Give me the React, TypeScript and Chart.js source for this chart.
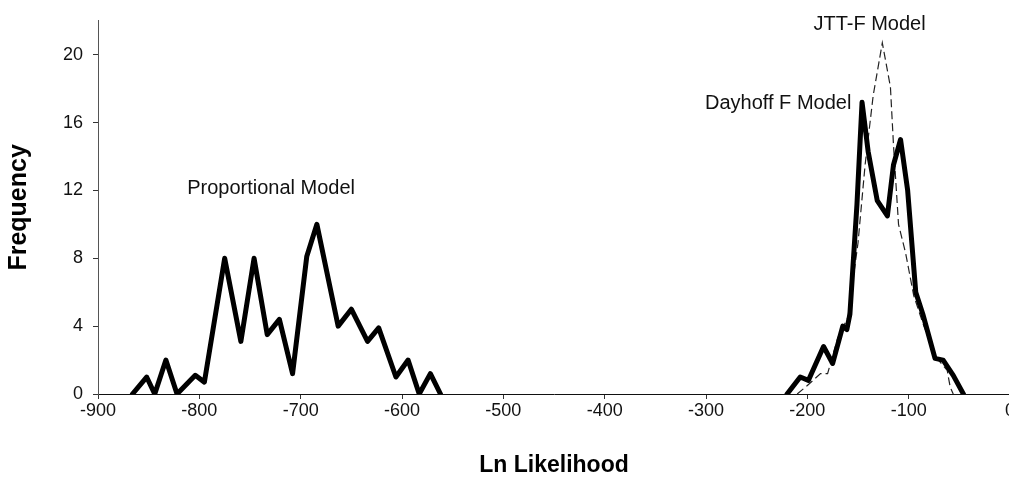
import React, { useEffect, useRef } from "react";
import { Chart, registerables } from "chart.js";

Chart.register(...registerables);

// Proportional Model
const propX = [-866, -852, -844, -833, -822, -804, -795, -775, -759, -746, -733, -721, -708, -694, -684, -663, -650, -634, -623, -606, -594, -583, -572, -562];
const propY = [0, 1.0, 0, 2.0, 0, 1.1, 0.7, 8, 3.1, 8, 3.5, 4.4, 1.2, 8.1, 10, 4.0, 5.0, 3.1, 3.9, 1.0, 2.0, 0, 1.2, 0];

// Dayhoff F Model
const dayX = [-220, -207, -199, -184, -175, -165, -161, -158, -151, -146, -140, -131, -121, -115, -108, -101, -93, -86, -74, -66, -56, -46];
const dayY = [0, 1.0, 0.8, 2.8, 1.8, 4.0, 3.8, 4.7, 11.2, 17.2, 14.3, 11.4, 10.5, 13.5, 15.0, 12.0, 6.0, 4.7, 2.1, 2.0, 1.1, 0];

// JTT-F Model
const jttX = [-210, -200, -187, -180, -170, -160, -150, -143, -135, -126, -118, -115, -110, -103, -95, -85, -72, -62, -59, -56];
const jttY = [0, 0.5, 1.2, 1.2, 3.3, 4.5, 8.9, 13.5, 17.6, 20.7, 18.1, 14.7, 10, 8.3, 5.8, 4, 2.1, 1.4, 0.4, 0];

const yTicks = [0, 4, 8, 12, 16, 20];
const xTicks = [-900, -800, -700, -600, -500, -400, -300, -200, -100, 0];

const labelTexts = ["Proportional Model", "Dayhoff F Model", "JTT-F Model"];
const labelAnchorX = [-812, -301, -194];
const labelAnchorY = [12.1, 17.1, 21.8];

const toPoints = (xs: number[], ys: number[]) => xs.map((x, i) => ({ x, y: ys[i] }));

const FONT = "'Liberation Sans', Arial, sans-serif";

const annotationPlugin = {
  id: "modelLabels",
  afterDatasetsDraw(chart: any) {
    const { ctx, scales } = chart;
    ctx.save();
    ctx.font = `20px ${FONT}`;
    ctx.fillStyle = "#111";
    ctx.textAlign = "left";
    ctx.textBaseline = "middle";
    labelTexts.forEach((t, i) => {
      const px = scales.x.getPixelForValue(labelAnchorX[i]);
      const py = scales.y.getPixelForValue(labelAnchorY[i]);
      ctx.fillText(t, px, py);
    });
    ctx.restore();
  },
};

export default function App() {
  const ref = useRef<HTMLCanvasElement | null>(null);
  useEffect(() => {
    if (!ref.current) return;
    const chart = new Chart(ref.current, {
      type: "line",
      data: {
        datasets: [
          {
            label: "Proportional Model",
            data: toPoints(propX, propY),
            borderColor: "#000",
            borderWidth: 5,
            pointRadius: 0,
            tension: 0,
            borderJoinStyle: "round",
            borderCapStyle: "round",
            fill: false,
          },
          {
            label: "Dayhoff F Model",
            data: toPoints(dayX, dayY),
            borderColor: "#000",
            borderWidth: 5,
            pointRadius: 0,
            tension: 0,
            borderJoinStyle: "round",
            borderCapStyle: "round",
            fill: false,
          },
          {
            label: "JTT-F Model",
            data: toPoints(jttX, jttY),
            borderColor: "#222",
            borderWidth: 1.2,
            borderDash: [8, 4],
            pointRadius: 0,
            tension: 0,
            fill: false,
          },
        ],
      },
      options: {
        responsive: false,
        animation: false,
        devicePixelRatio: 1,
        layout: { padding: { top: 13, right: 30, left: 0, bottom: 0 } },
        plugins: { legend: { display: false }, tooltip: { enabled: false } },
        scales: {
          x: {
            type: "linear",
            min: -900,
            max: 0,
            afterFit: (s: any) => {
              s.height = 93;
            },
            afterBuildTicks: (s: any) => {
              s.ticks = xTicks.map((v) => ({ value: v }));
            },
            ticks: {
              color: "#111",
              font: { family: FONT, size: 18 },
              padding: 1,
              maxRotation: 0,
              autoSkip: false,
              callback: (v: any) => String(v),
            },
            grid: { display: true, drawOnChartArea: false, tickLength: 5, color: "#333" },
            border: { display: true, color: "#111", dash: [5, 2], width: 1 },
            title: {
              display: true,
              text: "Ln Likelihood",
              color: "#000",
              font: { family: FONT, size: 23, weight: "bold" },
              padding: { top: 0, bottom: 8 },
            },
          },
          y: {
            type: "linear",
            min: 0,
            max: 22,
            afterFit: (s: any) => {
              s.width = 98;
            },
            afterBuildTicks: (s: any) => {
              s.ticks = yTicks.map((v) => ({ value: v }));
            },
            ticks: {
              color: "#111",
              font: { family: FONT, size: 18 },
              padding: 10,
              callback: (v: any) => String(v),
            },
            grid: { display: true, drawOnChartArea: false, tickLength: 5, color: "#333" },
            border: { display: true, color: "#555", dash: [2, 3], width: 1 },
            title: {
              display: true,
              text: "Frequency",
              color: "#000",
              font: { family: FONT, size: 25, weight: "bold" },
              padding: { top: 4, bottom: 0 },
            },
          },
        },
      },
      plugins: [annotationPlugin],
    });
    return () => chart.destroy();
  }, []);

  return (
    <div
      style={{
        position: "fixed",
        left: 0,
        top: 0,
        width: 1009,
        height: 487,
        overflow: "hidden",
        background: "#fff",
      }}
    >
      <canvas ref={ref} width={1040} height={487} style={{ display: "block" }} />
    </div>
  );
}
